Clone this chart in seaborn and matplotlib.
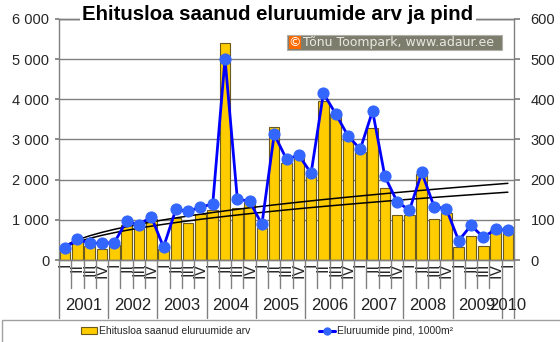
import numpy as np
import pandas as pd
import matplotlib
matplotlib.use("Agg")
import matplotlib.pyplot as plt
import matplotlib.transforms as mtransforms
from matplotlib.patches import Rectangle, Patch
from matplotlib.lines import Line2D
from matplotlib.ticker import FuncFormatter
import seaborn as sns

# Quarterly building permits: number of dwellings and floor area (1000 m²)
years = ["2001", "2002", "2003", "2004", "2005", "2006", "2007", "2008", "2009", "2010"]
quarters = ["I", "II", "III", "IV"]
arv = [310, 450, 355, 270, 380, 865, 810, 1020, 280,
       1050, 920, 1150, 1250, 5400, 1290, 1450, 795,
       3300, 2410, 2590, 2140, 3950, 3640, 3070, 2700,
       3290, 1800, 1120, 1115, 2150, 1020, 1160,
       325, 595, 345, 740, 820]
pind = [30, 52, 42, 42, 43, 98, 87, 108, 32,
        126, 121, 132, 139, 501, 152, 146, 89,
        313, 251, 261, 216, 415, 364, 309, 276,
        371, 208, 145, 124, 218, 133, 127,
        48, 86, 57, 76, 74]
label_arv = "Ehitusloa saanud eluruumide arv"
label_pind = "Eluruumide pind, 1000m²"

BAR = "#ffcc00"
BAR_EDGE = "#6b5a1e"
LINE = "#0000ff"
DOT = "#3366ff"
GRID = "#808080"

sns.set_theme(style="white")
plt.rcParams["font.family"] = ["Liberation Sans", "DejaVu Sans"]

W, H = 560, 342
fig = plt.figure(figsize=(W / 100, H / 100), dpi=100)
L, R, T, B = 59, 514, 19, 260
ax = fig.add_axes([L / W, 1 - B / H, (R - L) / W, (B - T) / H])

n = len(arv)
df = pd.DataFrame({"t": np.arange(n), "arv": arv, "pind": pind})

sns.barplot(data=df, x="t", y="arv", ax=ax, color=BAR, saturation=1,
            edgecolor=BAR_EDGE, linewidth=0.8, width=0.86, native_scale=True,
            zorder=2)


def power_trend(values):
    """Least-squares power trend y = a * t**c over t = 1..n."""
    t = np.arange(1, len(values) + 1)
    c, ln_a = np.polyfit(np.log(t), np.log(values), 1)
    return np.exp(ln_a) * t ** c


ax.plot(df["t"], power_trend(df["arv"]), color="black", lw=1.1, zorder=3)

ax2 = ax.twinx()
ax2.plot(df["t"], power_trend(df["pind"]), color="black", lw=1.1, zorder=1)
sns.lineplot(data=df, x="t", y="pind", ax=ax2, color=LINE, lw=2.0,
             marker="o", markersize=8, markerfacecolor=DOT,
             markeredgecolor=DOT, zorder=2)

ax.set_xlim(-0.5, n - 0.5)
ax.set_ylim(0, 6000)
ax2.set_ylim(0, 600)
ax.set_yticks(np.arange(0, 6001, 1000))
ax2.set_yticks(np.arange(0, 601, 100))
ax.yaxis.set_major_formatter(FuncFormatter(lambda v, p: f"{int(v):,}".replace(",", " ")))
ax.grid(axis="y", color=GRID, lw=1)
ax.grid(axis="x", visible=False)
ax.set_axisbelow(True)

for a in (ax, ax2):
    a.set_xlabel("")
    a.set_ylabel("")
    for s in a.spines.values():
        s.set_color(GRID)
        s.set_linewidth(1)
ax2.spines["left"].set_visible(False)
ax.spines["right"].set_visible(False)

ax.tick_params(axis="y", labelsize=10.5, length=3, color=GRID, pad=4, left=True)
ax2.tick_params(axis="y", labelsize=10.5, length=4, color=GRID, pad=8, right=True)

ax.set_xticks(df["t"])
ax.set_xticklabels([quarters[i % 4] for i in range(n)], rotation=90, fontsize=11.5)
ax.tick_params(axis="x", length=0, pad=2)

# quarter and year separators below the axis
trans = mtransforms.blended_transform_factory(ax.transData, ax.transAxes)
short_y = -(288 - B) / (B - T)
long_y = -(318 - B) / (B - T)
for k in range(n + 1):
    ybot = long_y if (k % 4 == 0 or k == n) else short_y
    ax.plot([k - 0.5, k - 0.5], [0, ybot], color=GRID, lw=1,
            transform=trans, clip_on=False)

year_y = -(305 - B) / (B - T)
for i, yr in enumerate(years):
    idx = [j for j in range(n) if j // 4 == i]
    ax.text(np.mean(idx), year_y, yr, transform=trans, ha="center", va="center",
            fontsize=12, color="#222222")

# title
fig.text(278 / W, 1 - 14 / H, "Ehitusloa saanud eluruumide arv ja pind",
         ha="center", va="center", fontsize=14.7, weight="bold", color="black",
         bbox=dict(facecolor="white", edgecolor="none", pad=1.5))

# copyright badge
fig.patches.append(Rectangle((287 / W, 1 - 50 / H), (502 - 287) / W, 15 / H,
                             transform=fig.transFigure, facecolor="#7d7d6e",
                             edgecolor="#b0b0a8", lw=0.8, zorder=5))
fig.patches.append(Rectangle((289 / W, 1 - 49 / H), 12 / W, 13 / H,
                             transform=fig.transFigure, facecolor="#ff6a00",
                             edgecolor="none", zorder=6))
fig.text(295 / W, 1 - 42.5 / H, "©", ha="center", va="center", fontsize=9,
         color="white", family=["DejaVu Sans"], zorder=7)
fig.text(303 / W, 1 - 42.5 / H, "Tõnu Toompark, www.adaur.ee", ha="left",
         va="center", fontsize=9, color="#e8e8e0", family=["DejaVu Sans"], zorder=7)

# legend frame and entries
fig.patches.append(Rectangle((2 / W, -0.01), 1, (342 - 320) / H + 0.01,
                             transform=fig.transFigure, facecolor="white",
                             edgecolor="#a0a0a0", lw=1, zorder=0))
handles = [Patch(facecolor=BAR, edgecolor=BAR_EDGE, lw=0.8),
           Line2D([], [], color=LINE, lw=2.2, marker="o", markersize=5,
                  markerfacecolor=DOT, markeredgecolor=DOT)]
fig.legend(handles, [label_arv, label_pind], loc="center",
           bbox_to_anchor=(267 / W, 1 - 331 / H), ncol=2, frameon=False,
           fontsize=7.5, handlelength=1.6, handleheight=0.6, handletextpad=0.2,
           columnspacing=6.5)

fig.savefig("out.png", dpi=100)
